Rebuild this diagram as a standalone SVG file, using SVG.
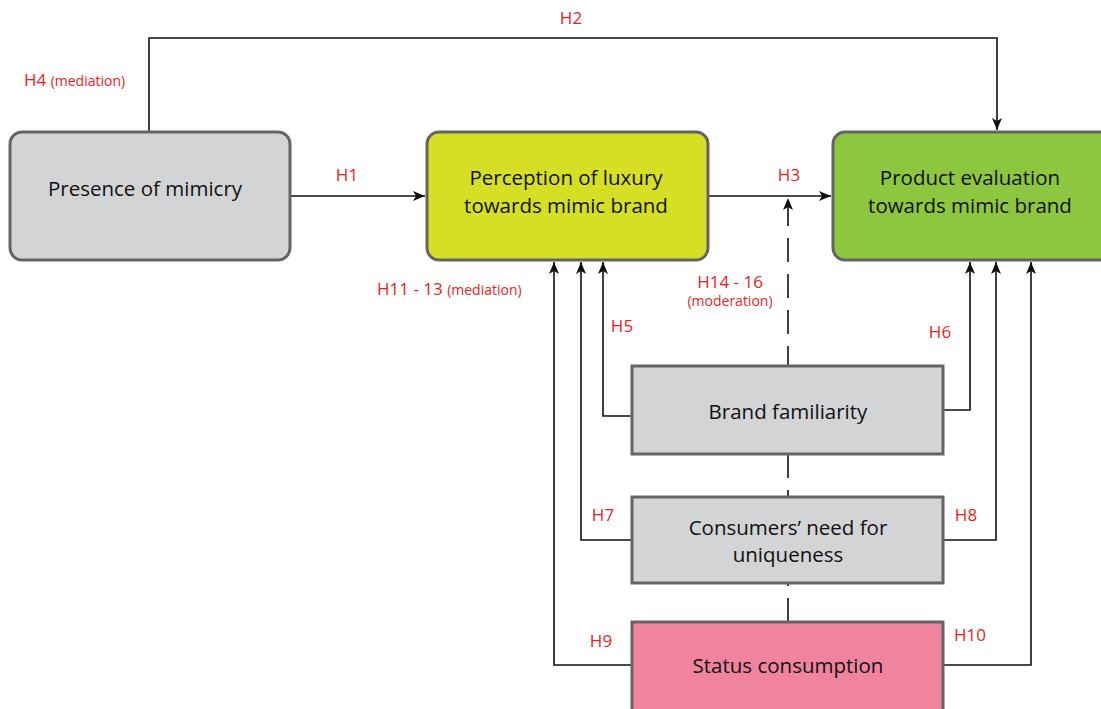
<svg xmlns="http://www.w3.org/2000/svg" width="1101" height="709" viewBox="0 0 1101 709">
  <style>
    .box { stroke: #646464; stroke-width: 3; }
    .grey { fill: #d3d4d6; }
    .lime { fill: #d6df23; }
    .green { fill: #8dc63f; }
    .pink { fill: #f0849f; }
    .lbl { font-family: "Open Sans", "Liberation Sans", sans-serif; font-size: 20.5px; fill: #111; text-anchor: middle; }
    .hyp { font-family: "Open Sans", "Liberation Sans", sans-serif; font-size: 17px; fill: #ed1c24; }
    .small { font-size: 14px; }
    .line { fill: none; stroke: #111; stroke-width: 1.6; }
    .dash { fill: none; stroke: #111; stroke-width: 1.6; stroke-dasharray: 24 12; }
  </style>
  <defs>
    <marker id="arrow" viewBox="0 0 12 10" refX="12" refY="5" markerWidth="12" markerHeight="10" markerUnits="userSpaceOnUse" orient="auto">
      <path d="M0,0 L12,5 L0,10 L3,5 Z" fill="#111"/>
    </marker>
  </defs>

  <rect width="1101" height="709" fill="#fff"/>

  <!-- connectors -->
  <g id="connectors">
    <path class="line" d="M149,132 V38 H997 V130" marker-end="url(#arrow)"/>
    <path class="line" d="M290,196 H425" marker-end="url(#arrow)"/>
    <path class="line" d="M708,196 H831" marker-end="url(#arrow)"/>
    <path class="dash" d="M788,622 V198" marker-end="url(#arrow)"/>
    <path class="line" d="M632,416 H603 V262" marker-end="url(#arrow)"/>
    <path class="line" d="M632,540 H581 V262" marker-end="url(#arrow)"/>
    <path class="line" d="M632,665 H554 V262" marker-end="url(#arrow)"/>
    <path class="line" d="M943,410 H970 V262" marker-end="url(#arrow)"/>
    <path class="line" d="M943,540 H996 V262" marker-end="url(#arrow)"/>
    <path class="line" d="M943,665 H1031 V262" marker-end="url(#arrow)"/>
  </g>

  <!-- nodes -->
  <g id="presence">
    <rect class="box grey" x="10" y="132" width="280" height="128" rx="12"/>
    <text class="lbl" x="145" y="196">Presence of mimicry</text>
  </g>
  <g id="perception">
    <rect class="box lime" x="427" y="132" width="281" height="128" rx="12"/>
    <text class="lbl" x="566" y="185">Perception of luxury</text>
    <text class="lbl" x="566" y="213">towards mimic brand</text>
  </g>
  <g id="evaluation">
    <rect class="box green" x="833" y="132" width="290" height="128" rx="12"/>
    <text class="lbl" x="970" y="185">Product evaluation</text>
    <text class="lbl" x="970" y="213">towards mimic brand</text>
  </g>
  <g id="familiarity">
    <rect class="box grey" x="632" y="366" width="311" height="88"/>
    <text class="lbl" x="788" y="419">Brand familiarity</text>
  </g>
  <g id="uniqueness">
    <rect class="box grey" x="632" y="497" width="311" height="86"/>
    <text class="lbl" x="788" y="535">Consumers’ need for</text>
    <text class="lbl" x="788" y="562">uniqueness</text>
  </g>
  <g id="status">
    <rect class="box pink" x="632" y="622" width="311" height="100"/>
    <text class="lbl" x="788" y="673">Status consumption</text>
  </g>

  <!-- hypothesis labels -->
  <g id="labels">
    <text class="hyp" x="571" y="24" text-anchor="middle">H2</text>
    <text class="hyp" x="24" y="86">H4 <tspan class="small">(mediation)</tspan></text>
    <text class="hyp" x="347" y="181" text-anchor="middle">H1</text>
    <text class="hyp" x="789" y="181" text-anchor="middle">H3</text>
    <text class="hyp" x="377" y="295">H11 - 13 <tspan class="small">(mediation)</tspan></text>
    <text class="hyp" x="730" y="288" text-anchor="middle">H14 - 16</text>
    <text class="hyp small" x="730" y="306" text-anchor="middle">(moderation)</text>
    <text class="hyp" x="622" y="332" text-anchor="middle">H5</text>
    <text class="hyp" x="940" y="338" text-anchor="middle">H6</text>
    <text class="hyp" x="603" y="521" text-anchor="middle">H7</text>
    <text class="hyp" x="966" y="521" text-anchor="middle">H8</text>
    <text class="hyp" x="601" y="647" text-anchor="middle">H9</text>
    <text class="hyp" x="970" y="641" text-anchor="middle">H10</text>
  </g>
</svg>
